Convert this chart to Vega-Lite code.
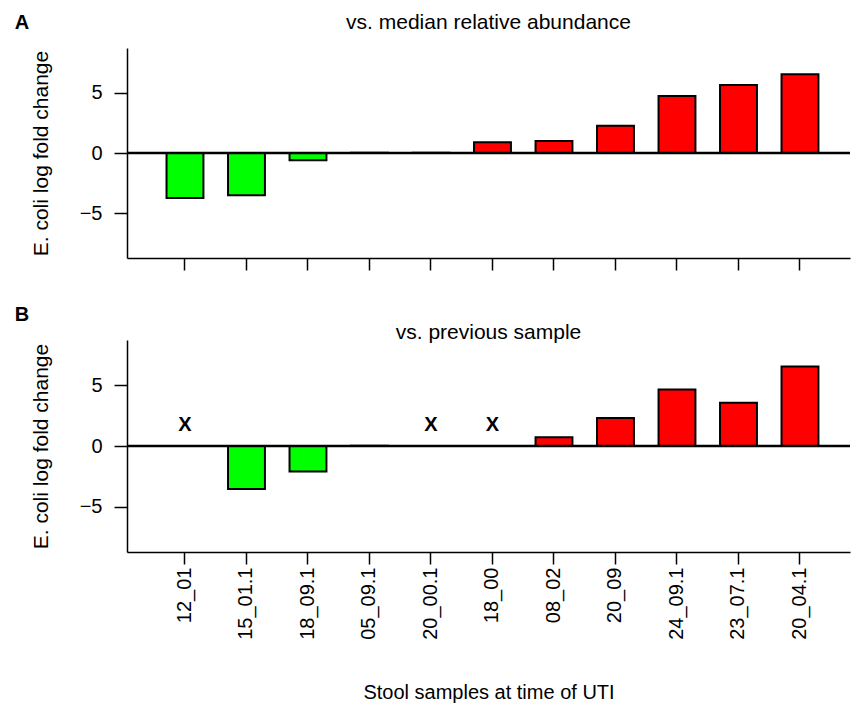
{
  "$schema": "https://vega.github.io/schema/vega-lite/v6.json",
  "background": "white",
  "padding": {"left": 14, "top": 11, "right": 0, "bottom": 5},
  "spacing": 34,
  "datasets": {
    "a": [
      {"sample": "12_01", "value": -3.73},
      {"sample": "15_01.1", "value": -3.5},
      {"sample": "18_09.1", "value": -0.6},
      {"sample": "05_09.1", "value": 0.03},
      {"sample": "20_00.1", "value": 0.03},
      {"sample": "18_00", "value": 0.89},
      {"sample": "08_02", "value": 1.0},
      {"sample": "20_09", "value": 2.26},
      {"sample": "24_09.1", "value": 4.72},
      {"sample": "23_07.1", "value": 5.63},
      {"sample": "20_04.1", "value": 6.52}
    ],
    "b": [
      {"sample": "12_01", "value": null},
      {"sample": "15_01.1", "value": -3.53},
      {"sample": "18_09.1", "value": -2.09},
      {"sample": "05_09.1", "value": 0.03},
      {"sample": "20_00.1", "value": null},
      {"sample": "18_00", "value": null},
      {"sample": "08_02", "value": 0.72},
      {"sample": "20_09", "value": 2.29},
      {"sample": "24_09.1", "value": 4.63},
      {"sample": "23_07.1", "value": 3.56},
      {"sample": "20_04.1", "value": 6.53}
    ]
  },
  "config": {
    "font": "Liberation Sans",
    "view": {"stroke": null},
    "axis": {
      "grid": false,
      "domainColor": "black",
      "tickColor": "black",
      "labelColor": "black",
      "titleColor": "black",
      "domainWidth": 1.5,
      "tickWidth": 1.5,
      "labelFont": "Liberation Sans",
      "titleFont": "Liberation Sans",
      "titleFontWeight": "normal"
    },
    "title": {"font": "Liberation Sans", "color": "black"}
  },
  "vconcat": [
    {
      "title": {"text": "A", "anchor": "start", "frame": "bounds", "fontSize": 20, "fontWeight": "bold", "baseline": "alphabetic", "offset": 0, "dx": -16, "dy": 37},
      "vconcat": [
        {
          "width": 723,
          "height": 210,
          "title": {"text": "vs. median relative abundance", "fontSize": 21, "fontWeight": "normal", "anchor": "middle", "baseline": "alphabetic", "offset": -1.5},
          "data": {"name": "a"},
          "layer": [
            {
              "mark": {"type": "bar", "stroke": "black", "strokeWidth": 2},
              "encoding": {
                "x": {
                  "field": "sample", "type": "nominal", "sort": null,
                  "scale": {"domain": ["12_01", "15_01.1", "18_09.1", "05_09.1", "20_00.1", "18_00", "08_02", "20_09", "24_09.1", "23_07.1", "20_04.1"], "paddingInner": 0.4, "paddingOuter": 0.578, "align": 0.556},
                  "axis": {"labels": false, "ticks": true, "tickSize": 12, "title": null}
                },
                "y": {
                  "field": "value", "type": "quantitative",
                  "scale": {"domain": [-8.7, 8.7], "nice": false, "zero": false},
                  "axis": {"values": [-5, 0, 5], "labelFontSize": 20, "tickSize": 13, "labelPadding": 12, "title": "E. coli log fold change", "titleFontSize": 21, "titlePadding": 27.5}
                },
                "color": {"condition": {"test": "datum.value < 0", "value": "#00ff00"}, "value": "#ff0000"}
              }
            },
            {
              "data": {"values": [{}]},
              "mark": {"type": "rule", "color": "black", "strokeWidth": 2.5},
              "encoding": {"y": {"datum": 0, "type": "quantitative"}}
            }
          ]
        }
      ]
    },
    {
      "title": {"text": "B", "anchor": "start", "frame": "bounds", "fontSize": 20, "fontWeight": "bold", "baseline": "alphabetic", "offset": 0, "dx": -16, "dy": 19},
      "vconcat": [
        {
          "width": 723,
          "height": 212,
          "title": {"text": "vs. previous sample", "fontSize": 21, "fontWeight": "normal", "anchor": "middle", "baseline": "alphabetic", "offset": -20},
          "data": {"name": "b"},
          "layer": [
            {
              "mark": {"type": "bar", "stroke": "black", "strokeWidth": 2},
              "encoding": {
                "x": {
                  "field": "sample", "type": "nominal", "sort": null,
                  "scale": {"domain": ["12_01", "15_01.1", "18_09.1", "05_09.1", "20_00.1", "18_00", "08_02", "20_09", "24_09.1", "23_07.1", "20_04.1"], "paddingInner": 0.4, "paddingOuter": 0.578, "align": 0.556},
                  "axis": {"labelAngle": -90, "labelFontSize": 20, "labelPadding": 3, "tickSize": 12, "title": "Stool samples at time of UTI", "titleFontSize": 20, "titlePadding": 43}
                },
                "y": {
                  "field": "value", "type": "quantitative",
                  "scale": {"domain": [-8.7, 8.7], "nice": false, "zero": false},
                  "axis": {"values": [-5, 0, 5], "labelFontSize": 20, "tickSize": 13, "labelPadding": 12, "title": "E. coli log fold change", "titleFontSize": 21, "titlePadding": 27.5}
                },
                "color": {"condition": {"test": "datum.value < 0", "value": "#00ff00"}, "value": "#ff0000"}
              }
            },
            {
              "transform": [{"filter": "datum.value === null"}],
              "mark": {"type": "text", "text": "X", "fontWeight": "bold", "fontSize": 20, "baseline": "middle", "color": "black"},
              "encoding": {
                "x": {"field": "sample", "type": "nominal", "sort": null},
                "y": {"datum": 1.75, "type": "quantitative"}
              }
            },
            {
              "data": {"values": [{}]},
              "mark": {"type": "rule", "color": "black", "strokeWidth": 2.5},
              "encoding": {"y": {"datum": 0, "type": "quantitative"}}
            }
          ]
        }
      ]
    }
  ]
}
